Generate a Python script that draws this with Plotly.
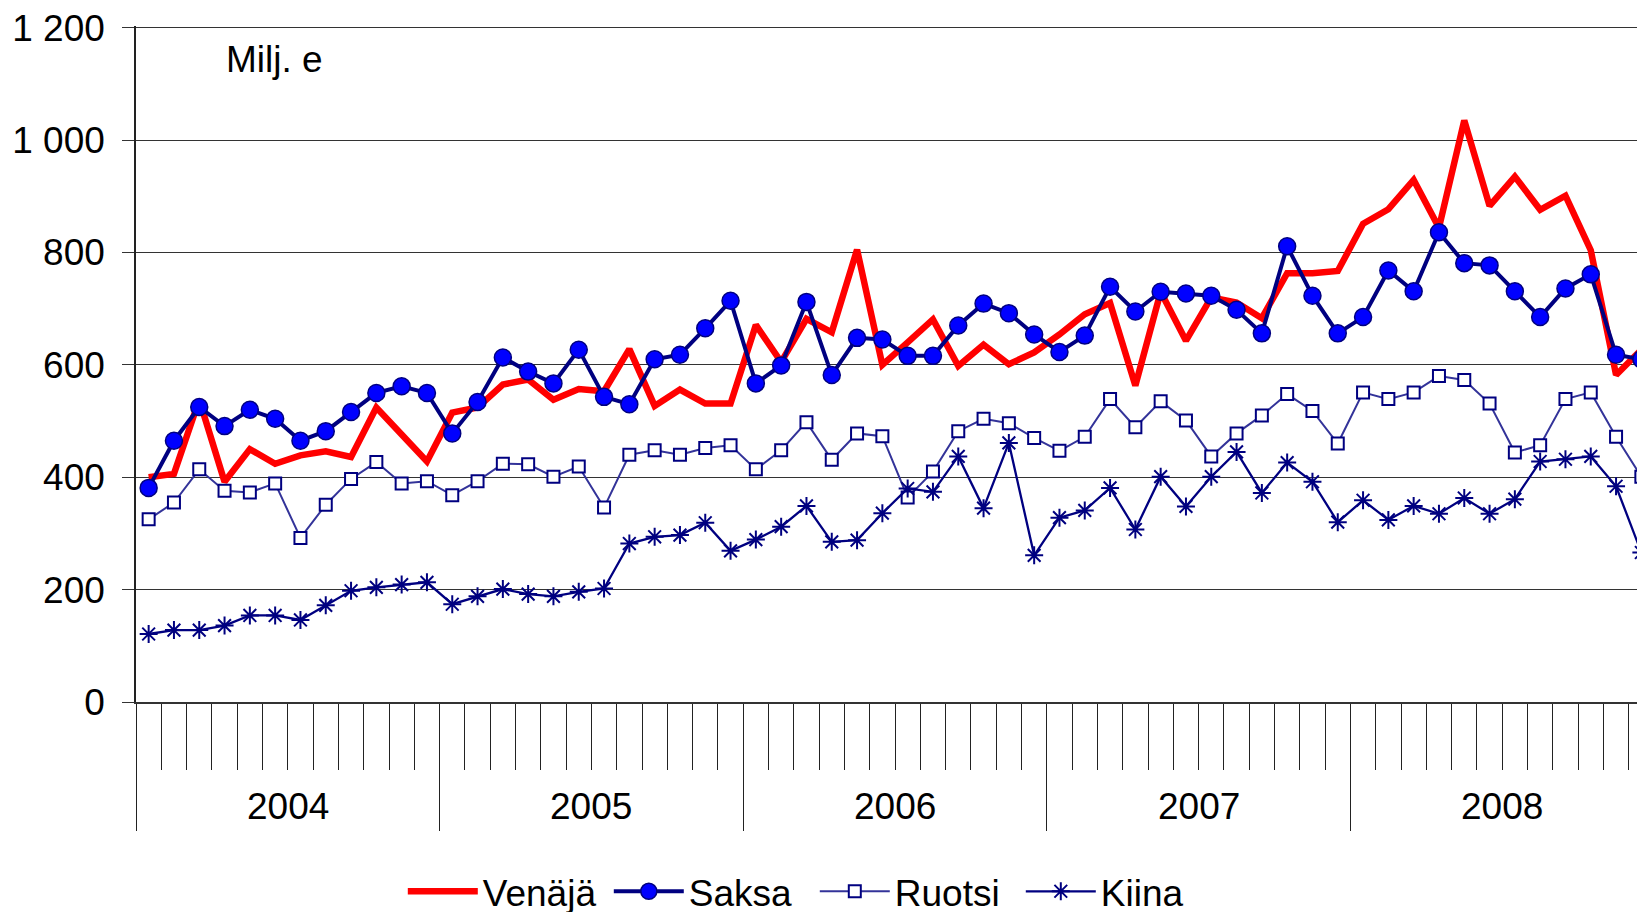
import plotly.graph_objects as go

# Monthly values, Jan 2004 - Dec 2008 (Milj. e)
years = ["2004", "2005", "2006", "2007", "2008"]

venaja = [400, 406, 538, 392, 450, 424, 439, 446, 436, 524, 476, 428,
          515, 524, 565, 574, 538, 557, 553, 628, 527, 556, 531, 531,
          671, 605, 682, 658, 805, 600, 640, 681, 598, 636, 601, 622,
          654, 690, 710, 563, 730, 643, 720, 711, 683, 763, 763, 767,
          851, 877, 929, 844, 1035, 883, 935, 876, 901, 804, 582, 627]

saksa = [381, 465, 525, 491, 520, 504, 465, 482, 516, 550, 562, 550,
         478, 534, 613, 588, 567, 627, 543, 530, 610, 618, 665, 714,
         567, 599, 712, 582, 648, 645, 616, 616, 670, 709, 692, 654,
         623, 652, 739, 695, 730, 727, 723, 698, 656, 811, 723, 656,
         685, 768, 731, 836, 781, 777, 731, 685, 736, 761, 618, 610]

ruotsi = [325, 355, 414, 376, 373, 389, 292, 351, 397, 427, 389, 393,
          368, 393, 424, 423, 401, 419, 346, 440, 448, 440, 452, 457,
          414, 448, 498, 431, 478, 473, 364, 410, 482, 504, 496, 470,
          447, 472, 539, 489, 535, 501, 437, 478, 510, 548, 518, 460,
          551, 539, 551, 580, 573, 531, 444, 457, 539, 551, 472, 401]

kiina = [121, 128, 128, 136, 154, 154, 146, 172, 198, 204, 209, 213,
         174, 188, 201, 192, 188, 196, 202, 282, 294, 297, 319, 269,
         289, 312, 349, 285, 288, 336, 380, 374, 437, 345, 461, 261,
         328, 341, 381, 307, 401, 348, 401, 445, 372, 426, 392, 320,
         359, 324, 349, 335, 363, 335, 361, 428, 432, 437, 384, 266]

months = list(range(len(venaja)))
year_starts = [12 * i - 0.5 for i in range(len(years))]
year_mids = [12 * i + 5.5 for i in range(len(years))]

FONT = "Liberation Sans, Arial, sans-serif"
NAVY = "#000080"

fig = go.Figure()

fig.add_trace(go.Scatter(
    x=months, y=venaja, name="Venäjä", mode="lines",
    line=dict(color="#FF0000", width=6.5)
))

fig.add_trace(go.Scatter(
    x=months, y=saksa, name="Saksa", mode="lines+markers",
    line=dict(color=NAVY, width=4),
    marker=dict(symbol="circle", size=17, color="#0000FF",
                line=dict(color=NAVY, width=1.5))
))

fig.add_trace(go.Scatter(
    x=months, y=ruotsi, name="Ruotsi", mode="lines+markers",
    line=dict(color="#333399", width=2),
    marker=dict(symbol="square", size=12, color="white",
                line=dict(color=NAVY, width=2))
))

fig.add_trace(go.Scatter(
    x=months, y=kiina, name="Kiina", mode="lines+markers",
    line=dict(color=NAVY, width=2.3),
    marker=dict(symbol="asterisk-open", size=15,
                line=dict(color=NAVY, width=2))
))

# year labels under the axis
for yr, xm in zip(years, year_mids):
    fig.add_annotation(x=xm, y=-0.155, xref="x", yref="paper", text=yr,
                       showarrow=False, font=dict(size=37, color="black"),
                       xanchor="center", yanchor="middle")

fig.add_annotation(x=0.0577, y=0.951, xref="paper", yref="paper",
                   text="Milj. e", showarrow=False,
                   font=dict(size=37, color="black"),
                   xanchor="left", yanchor="middle")

# page body has an 8px margin, so the plot is shifted up/left by that
fig.update_layout(
    width=1645, height=912,
    margin=dict(l=128, r=0, t=16, b=218),
    paper_bgcolor="white", plot_bgcolor="white",
    font=dict(family=FONT, size=37, color="black"),
    separators=", ",
    showlegend=True,
    legend=dict(
        orientation="h", xref="container", yref="container",
        x=0.24, y=0.031, xanchor="left", yanchor="middle",
        font=dict(size=37), itemwidth=70,
        entrywidth=121, entrywidthmode="pixels",
        bgcolor="rgba(0,0,0,0)"
    ),
    xaxis=dict(
        range=[-0.5, 59.46],
        tickmode="array", tickvals=year_starts,
        showticklabels=False,
        ticks="outside", ticklen=127, tickwidth=1, tickcolor="#222",
        minor=dict(ticks="outside", ticklen=66, tickwidth=1,
                   tickcolor="#222", tick0=-0.5, dtick=1),
        showgrid=False, zeroline=False,
        showline=True, linecolor="#333", linewidth=2
    ),
    yaxis=dict(
        range=[0, 1203], tickmode="linear", tick0=0, dtick=200,
        tickformat=",d", ticklabeloverflow="allow",
        ticks="outside", ticklen=12, tickwidth=1, tickcolor="#333",
        ticklabelstandoff=10,
        showgrid=True, gridcolor="#333", gridwidth=1,
        zeroline=False,
        showline=True, linecolor="#222", linewidth=1.5
    )
)

fig.write_html("out.html")
